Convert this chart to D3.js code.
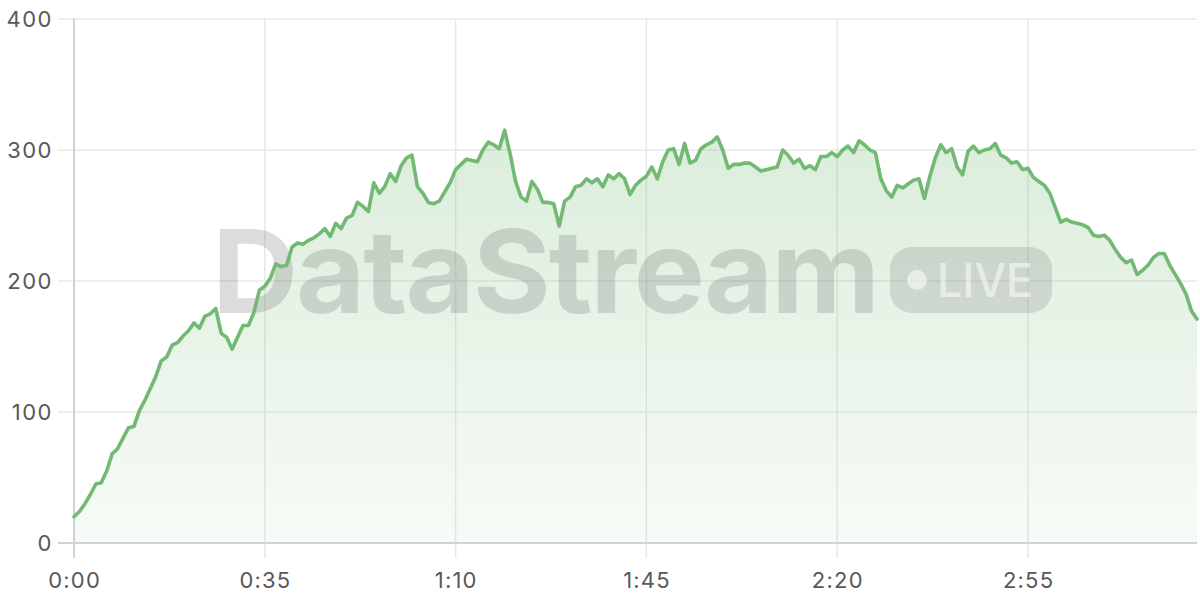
<!DOCTYPE html>
<html>
<head>
<meta charset="utf-8">
<script src="https://cdn.jsdelivr.net/npm/d3@7"></script>
<style>
  html, body { margin: 0; padding: 0; background: #fff; }
  svg { display: block; font-family: Inter, "Noto Sans", sans-serif; }
</style>
</head>
<body>
<svg id="chart" width="1200" height="600"></svg>
<script>
// one sample per second, 0:00 .. 3:26
const values = [
  20, 24, 30, 37, 45, 46, 55, 68, 72, 80,
  88, 89, 101, 109, 118, 127, 139, 142, 151, 153,
  158, 162, 168, 164, 173, 175, 179, 160, 157, 148,
  157, 166, 166, 176, 193, 196, 202, 213, 211, 212,
  226, 229, 228, 231, 233, 236, 240, 234, 244, 240,
  248, 250, 260, 257, 253, 275, 267, 272, 282, 276,
  288, 294, 296, 272, 267, 260, 259, 261, 268, 275,
  285, 289, 293, 292, 291, 300, 306, 304, 301, 315,
  297, 276, 264, 261, 276, 270, 260, 260, 259, 242,
  261, 264, 272, 273, 278, 275, 278, 272, 281, 278,
  282, 278, 266, 273, 277, 280, 287, 278, 291, 300,
  301, 289, 305, 290, 292, 301, 304, 306, 310, 300,
  286, 289, 289, 290, 290, 287, 284, 285, 286, 287,
  300, 296, 290, 293, 286, 288, 285, 295, 295, 298,
  295, 300, 303, 298, 307, 304, 300, 298, 278, 269,
  264, 273, 271, 274, 277, 278, 263, 280, 294, 304,
  298, 301, 287, 281, 299, 303, 298, 300, 301, 305,
  296, 294, 290, 291, 285, 286, 279, 276, 273, 267,
  256, 245, 247, 245, 244, 243, 241, 235, 234, 235,
  231, 224, 218, 214, 216, 205, 208, 212, 218, 221,
  221, 212, 205, 198, 190, 177, 171
];
const xTicks = [0, 35, 70, 105, 140, 175];
const yTicks = [0, 100, 200, 300, 400];

const data = values.map((v, i) => ({ t: i, v: v }));

const plotLeft = 74, plotRight = 1197, plotTop = 19, plotBottom = 543;
const svg = d3.select("#chart");

const x = d3.scaleLinear().domain([0, values.length - 1]).range([plotLeft, plotRight]);
const y = d3.scaleLinear().domain([0, 400]).range([plotBottom, plotTop]);

const fmt = s => Math.floor(s / 60) + ":" + String(s % 60).padStart(2, "0");

const defs = svg.append("defs");
const grad = defs.append("linearGradient")
    .attr("id", "fillGrad")
    .attr("x1", 0).attr("y1", 0).attr("x2", 0).attr("y2", 1);
grad.append("stop").attr("offset", "0%").attr("stop-color", "#77bc78").attr("stop-opacity", 0.27);
grad.append("stop").attr("offset", "100%").attr("stop-color", "#77bc78").attr("stop-opacity", 0.06);

// grid
svg.append("g")
  .selectAll("line")
  .data(yTicks.filter(d => d > 0))
  .enter().append("line")
    .attr("x1", plotLeft - 16).attr("x2", plotRight)
    .attr("y1", d => y(d)).attr("y2", d => y(d))
    .attr("stroke", "#e8e8e8").attr("stroke-width", 1.5);

svg.append("g")
  .selectAll("line")
  .data(xTicks.filter(d => d > 0))
  .enter().append("line")
    .attr("x1", d => x(d)).attr("x2", d => x(d))
    .attr("y1", plotTop).attr("y2", plotBottom + 15)
    .attr("stroke", "#e8e8e8").attr("stroke-width", 1.5);

// area
const area = d3.area()
    .x(d => x(d.t))
    .y0(y(0))
    .y1(d => y(d.v));

svg.append("path")
    .datum(data)
    .attr("fill", "url(#fillGrad)")
    .attr("d", area);

// watermark
const wm = svg.append("g").attr("pointer-events", "none");
wm.append("text")
    .attr("x", 212).attr("y", 313)
    .attr("font-size", 115)
    .attr("font-weight", 700)
    .attr("letter-spacing", -2)
    .attr("textLength", 666)
    .attr("lengthAdjust", "spacingAndGlyphs")
    .attr("fill", "rgba(110,110,110,0.24)")
    .text("DataStream");
wm.append("rect")
    .attr("x", 890).attr("y", 247)
    .attr("width", 162).attr("height", 66)
    .attr("rx", 22)
    .attr("fill", "rgba(110,110,110,0.2)");
wm.append("circle")
    .attr("cx", 917).attr("cy", 280).attr("r", 10)
    .attr("fill", "rgba(255,255,255,0.55)");
wm.append("text")
    .attr("x", 937).attr("y", 297)
    .attr("font-size", 47)
    .attr("font-weight", 500)
    .attr("textLength", 96)
    .attr("lengthAdjust", "spacingAndGlyphs")
    .attr("fill", "rgba(255,255,255,0.55)")
    .text("LIVE");

// axes lines
svg.append("line")
    .attr("x1", plotLeft).attr("x2", plotLeft)
    .attr("y1", plotTop).attr("y2", plotBottom + 15)
    .attr("stroke", "#d2d2d2").attr("stroke-width", 2);
svg.append("line")
    .attr("x1", plotLeft - 16).attr("x2", plotRight)
    .attr("y1", plotBottom).attr("y2", plotBottom)
    .attr("stroke", "#d2d2d2").attr("stroke-width", 2);

// line
const line = d3.line()
    .x(d => x(d.t))
    .y(d => y(d.v));

svg.append("path")
    .datum(data)
    .attr("fill", "none")
    .attr("stroke", "#72b974")
    .attr("stroke-width", 3.6)
    .attr("stroke-linejoin", "round")
    .attr("stroke-linecap", "round")
    .attr("d", line);

// tick labels
svg.append("g")
    .attr("text-anchor", "end")
    .attr("font-size", 22)
    .attr("letter-spacing", 1.5)
    .attr("fill", "#585858")
  .selectAll("text")
  .data(yTicks)
  .enter().append("text")
    .attr("x", 53)
    .attr("y", d => y(d))
    .attr("dy", "0.36em")
    .text(d => d);

svg.append("g")
    .attr("text-anchor", "middle")
    .attr("font-size", 22)
    .attr("letter-spacing", 1.2)
    .attr("fill", "#585858")
  .selectAll("text")
  .data(xTicks)
  .enter().append("text")
    .attr("x", d => x(d) + 0.6)
    .attr("y", 588)
    .text(d => fmt(d));
</script>
</body>
</html>
